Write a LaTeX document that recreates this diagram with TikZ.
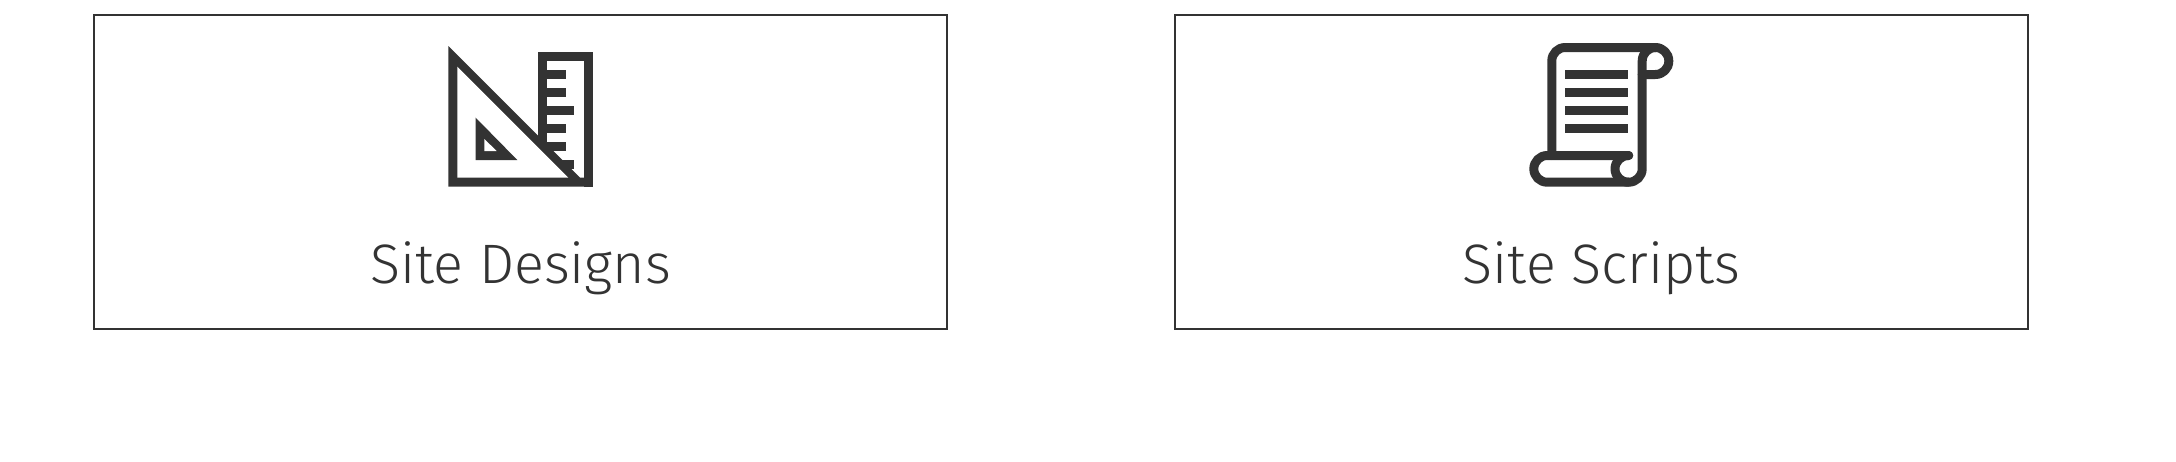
\documentclass[tikz,border=0pt]{standalone}
\usepackage{fontspec}
\newfontfamily\labelfont{Fira Sans Light}
\definecolor{icongray}{HTML}{333333}

\begin{document}
\begin{tikzpicture}[x=0.5pt,y=-0.5pt]
  \tikzstyle{panel}=[draw=icongray,line width=1pt,minimum width=426.35pt,minimum height=156.85pt,inner sep=0pt]
  \tikzstyle{sitelabel}=[anchor=base,inner sep=0pt,text=icongray,font=\labelfont\fontsize{27.8}{33}\selectfont]
  \tikzstyle{iconline}=[draw=icongray,line width=4.5pt,line cap=round,line join=round,rounded corners=6.7pt]
  \tikzstyle{tickline}=[draw=icongray,line width=4.5pt]

  \useasboundingbox (0,0) rectangle (2176,461);

  \node[panel] (designs) at (520.35,171.85) {};
  \node[panel] (scripts) at (1601.65,171.85) {};
  \node[sitelabel] (designlabel) at (520.8,283) {Site Designs};
  \node[sitelabel] (scriptlabel) at (1601.7,283) {Site Scripts};

  % ruler
  \draw[tickline] (542.8,147) -- (542.8,56.5) -- (588.2,56.5) -- (588.2,186.7);
  \foreach \y/\xstart/\xend in {74.5/547/565.7,92.4/547/565.7,110.5/547/574.3,128.5/547/565.7,146.5/540/565.7,164.5/547/574.3}
    \draw[tickline] (\xstart,\y) -- (\xend,\y);
  % set square
  \fill[icongray] (448.3,46) -- (580,177.7) -- (592.7,177.7) -- (592.7,186.7) -- (448.3,186.7) -- cycle;
  \fill[white] (457.3,66.7) -- (457.3,177.7) -- (568.3,177.7) -- cycle;
  \fill[icongray] (475.7,117.7) -- (475.7,160) -- (517.3,160) -- cycle;
  \fill[white] (484.3,139) -- (484.3,151) -- (496.7,151) -- cycle;

  % scroll
  \draw[iconline] (1551.8,155.5) -- (1551.8,47.5) -- (1668.8,47.5) -- (1668.8,74.5) -- (1642.2,74.5);
  \draw[iconline] (1655.3,47.5) -- (1642.2,47.5) -- (1642.2,182.2) -- (1533.8,182.2) -- (1533.8,155.5) -- (1628.7,155.5);
  \draw[iconline] (1628.7,155.5) -- (1615,155.5) -- (1615,182.2) -- (1626,182.2);
  \foreach \y in {74.5,92.5,110.5,128.5}
    \draw[tickline] (1565.3,\y) -- (1628.3,\y);
\end{tikzpicture}
\end{document}
